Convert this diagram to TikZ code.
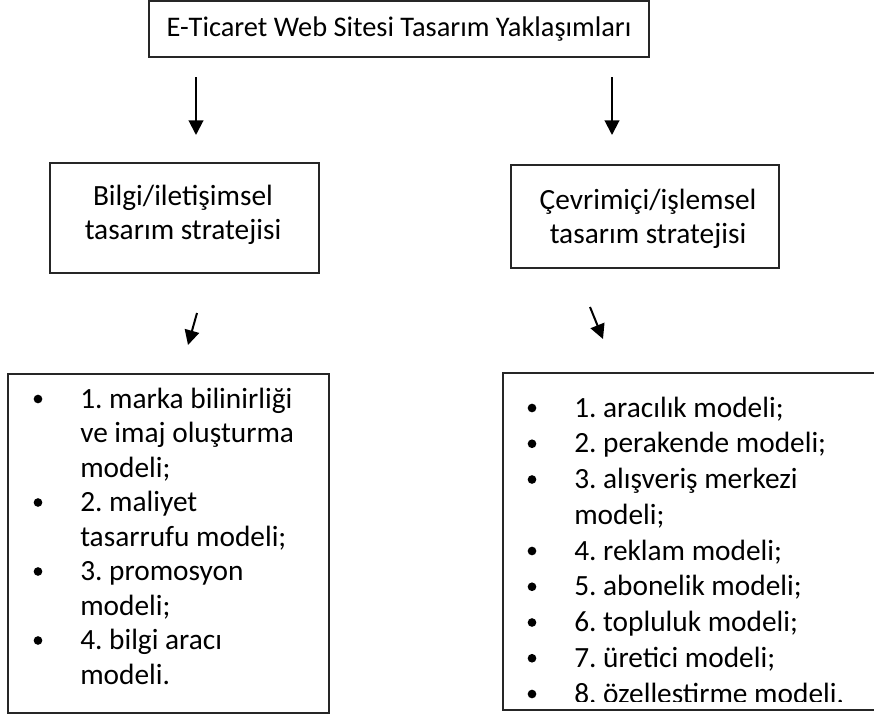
\documentclass[tikz,border=0pt]{standalone}
\usepackage{fontspec}
\setmainfont{Carlito}
\usetikzlibrary{arrows.meta,positioning}
\frenchspacing

\begin{document}
\begin{tikzpicture}[x=0.75pt, y=-0.75pt,
  box/.style={draw=black!85, line width=0.8pt, inner sep=0pt},
  arr/.style={-{Triangle[width=11pt,length=11pt]}, line width=1.5pt},
  t/.style={inner sep=0pt, font=\fontsize{22}{25.9}\selectfont},
  li/.style={t, anchor=base west},
  dot/.style={circle, fill=black, inner sep=0pt, minimum size=6.5pt}
]
\clip (0,0) rectangle (874,721);
\fill[white] (0,0) rectangle (874,721);

% top box
\node[box, t, font=\fontsize{21.3}{25}\selectfont, minimum width=375pt, minimum height=42pt] (top) at (399,29) {E-Ticaret Web Sitesi Tasarım Yaklaşımları};

% middle boxes
\node[box, minimum width=201.75pt, minimum height=82.5pt] (bilgi) at (184.5,218) {};
\node[t, font=\fontsize{22}{25}\selectfont, align=center, anchor=base] (bilgiT) at (183,239) {Bilgi/iletişimsel\\tasarım stratejisi};
\node[box, minimum width=201pt, minimum height=77.25pt] (cevrim) at (645,216.5) {};
\node[t, font=\fontsize{22}{25}\selectfont, align=center, anchor=base] (cevrimT) at (648,243) {Çevrimiçi/işlemsel\\tasarım stratejisi};

% arrows
\coordinate (a1) at (196,77);
\coordinate (a1e) at (196,135);
\coordinate (a2) at (612,77);
\coordinate (a2e) at (612,135);
\coordinate (b1) at (197,313);
\coordinate (b1e) at (188,345);
\coordinate (b2) at (590,307);
\coordinate (b2e) at (603,339);
\draw[arr] (a1) -- (a1e);
\draw[arr] (a2) -- (a2e);
\draw[arr] (b1) -- (b1e);
\draw[arr] (b2) -- (b2e);

% left list
\node[box, minimum width=240.75pt, minimum height=254.25pt] (bilgiList) at (168.5,543.5) {};
\foreach \s [count=\i] in {1. marka bilinirliği, ve imaj oluşturma, modeli;, 2. maliyet,
    tasarrufu modeli;, 3. promosyon, modeli;, 4. bilgi aracı, modeli.}
  \node[li] (bl\i) at (80,{408+34.5*(\i-1)}) {\s};
\foreach \i in {1,4,6,8}
  \node[dot] (bd\i) at (38,{399+34.5*(\i-1)}) {};

% right list (runs past the frame)
\node[box, minimum width=297.75pt, minimum height=252.75pt] (cevrimList) at (701.5,541.5) {};
\begin{scope}
\clip (503,373) rectangle (874,701);
\foreach \s [count=\i] in {1. aracılık modeli;, 2. perakende modeli;, 3. alışveriş merkezi,
    modeli;, 4. reklam modeli;, 5. abonelik modeli;, 6. topluluk modeli;,
    7. üretici modeli;, 8. özelleştirme modeli.}
  \node[li] (cl\i) at (574,{417+35.75*(\i-1)}) {\s};
\foreach \i in {1,2,3,5,6,7,8,9}
  \node[dot] (cd\i) at (532,{408+35.75*(\i-1)}) {};
\end{scope}
\end{tikzpicture}
\end{document}
